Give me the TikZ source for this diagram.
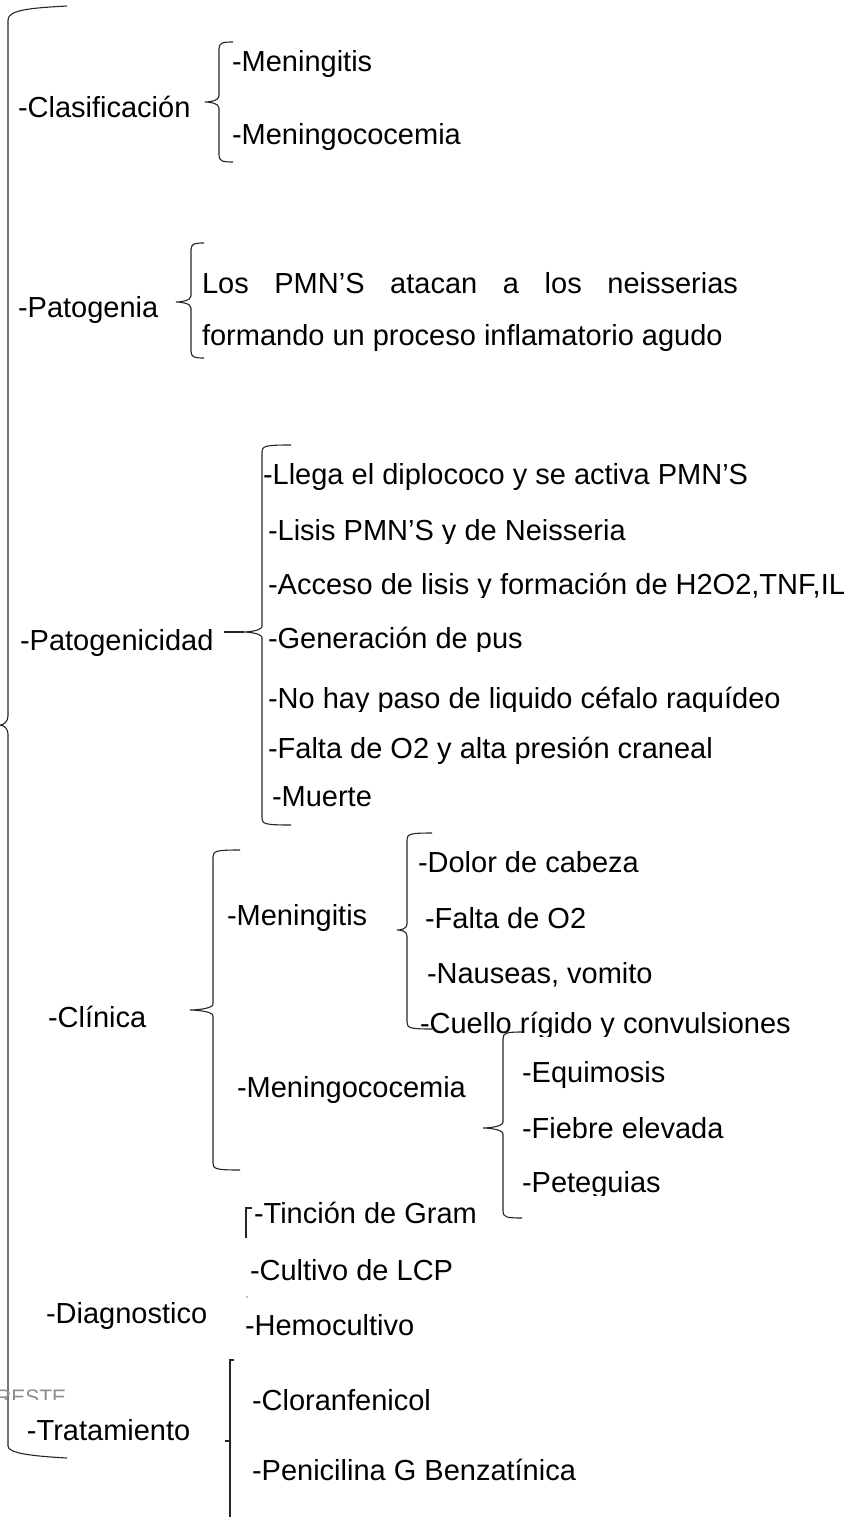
\documentclass[tikz,border=0pt]{standalone}
\usepackage{fontspec}
\setmainfont{Liberation Sans}
\begin{document}
\begin{tikzpicture}[x=1pt,y=-1pt,
  txt/.style={anchor=base west,inner sep=0pt,outer sep=0pt,font=\fontsize{29}{34}\selectfont},
  wm/.style={anchor=base west,inner sep=0pt,text=black!45,font=\fontsize{21}{24}\selectfont},
  br/.style={draw=black!85,line width=1.1pt}]
\useasboundingbox (0,0) rectangle (855,1517);
% macro: Word-style left brace  {X}{top}{bottom}{mid}{cusp x}{hook x}
\newcommand{\wbrace}[6]{%
  \draw[br] (#6,#2) .. controls (#1+3,#2) and (#1,#2+1) .. (#1,#2+7)
    -- (#1,#4-6) .. controls (#1,#4-1) and (#5+4,#4) .. (#5,#4)
    .. controls (#5+4,#4) and (#1,#4+1) .. (#1,#4+6)
    -- (#1,#3-7) .. controls (#1,#3-1) and (#1+3,#3) .. (#6,#3);}
\newcommand{\cliptext}[4]{%
  \begin{scope}\clip (#2-6,#3-40) rectangle (855,#3+3);
  \node[txt] (#1) at (#2,#3) {#4};\end{scope}}

% big brace
\draw[br] (67,6) .. controls (30,8) and (8,10) .. (8,20)
  -- (8,716) .. controls (8,721) and (4,725) .. (0,725)
  .. controls (4,725) and (8,729) .. (8,734)
  -- (8,1446) .. controls (8,1453) and (30,1456) .. (67,1458);

% Clasificacion
\node[txt] (clas) at (18,118) {-Clasificación};
\wbrace{219}{42}{162}{102}{205}{233}
\node[txt] (c1) at (232,72) {-Meningitis};
\node[txt] (c2) at (232,145) {-Meningococemia};

% Patogenia
\node[txt] (pat) at (18,317) {-Patogenia};
\wbrace{191}{243}{358}{302}{176}{204}
\node[txt] (p1) at (202,293) {\makebox[536pt][s]{Los PMN’S atacan a los neisserias}};
\node[txt] (p2) at (202,345) {formando un proceso inflamatorio agudo};

% Patogenicidad
\node[txt] (patg) at (20,650) {-Patogenicidad};
\draw[br] (224,632) -- (244,632);
\wbrace{262}{445}{825}{632}{243}{291}
\node[txt] (g1) at (263,484) {-Llega el diplococo y se activa PMN’S};
\cliptext{g2}{268}{540}{-Lisis PMN’S y de Neisseria}
\cliptext{g3}{268}{594}{-Acceso de lisis y formación de H2O2,TNF,IL}
\cliptext{g4}{268}{648}{-Generación de pus}
\cliptext{g5}{268}{708}{-No hay paso de liquido céfalo raquídeo}
\node[txt] (g6) at (268,758) {-Falta de O2 y alta presión craneal};
\node[txt] (g7) at (272,806) {-Muerte};

% Clinica
\node[txt] (cli) at (48,1027) {-Clínica};
\wbrace{213}{850}{1170}{1010}{190}{240}
\node[txt] (m1) at (227,925) {-Meningitis};
\node[txt] (m2) at (237,1097) {-Meningococemia};
\wbrace{407}{833}{1029}{930}{397}{432}
\node[txt] (s1) at (418,872) {-Dolor de cabeza};
\node[txt] (s2) at (425,928) {-Falta de O2};
\node[txt] (s3) at (427,983) {-Nauseas, vomito};
\cliptext{s4}{420}{1033}{-Cuello rígido y convulsiones}
\wbrace{503}{1032}{1218}{1128}{483}{522}
\node[txt] (e1) at (522,1082) {-Equimosis};
\node[txt] (e2) at (522,1138) {-Fiebre elevada};
\cliptext{e3}{522}{1192}{-Peteguias}

% Diagnostico
\node[txt] (dia) at (46,1323) {-Diagnostico};
\draw[br] (252,1208) -- (246,1208) -- (246,1238);
\fill[black!50] (247,1297) circle (0.8);
\node[txt] (d1) at (254,1223) {-Tinción de Gram};
\node[txt] (d2) at (250,1280) {-Cultivo de LCP};
\node[txt] (d3) at (245,1335) {-Hemocultivo};

% Tratamiento
\begin{scope}\clip (-10,1360) rectangle (855,1399);
\node[wm] (wm) at (-4,1404) {RESTE};\end{scope}
\node[txt] (tra) at (27,1440) {-Tratamiento};
\draw[br] (234,1360) -- (230,1360) -- (230,1517);
\draw[br] (225,1441) -- (230,1441);
\node[txt] (t1) at (252,1410) {-Cloranfenicol};
\node[txt] (t2) at (252,1480) {-Penicilina G Benzatínica};
\end{tikzpicture}
\end{document}
